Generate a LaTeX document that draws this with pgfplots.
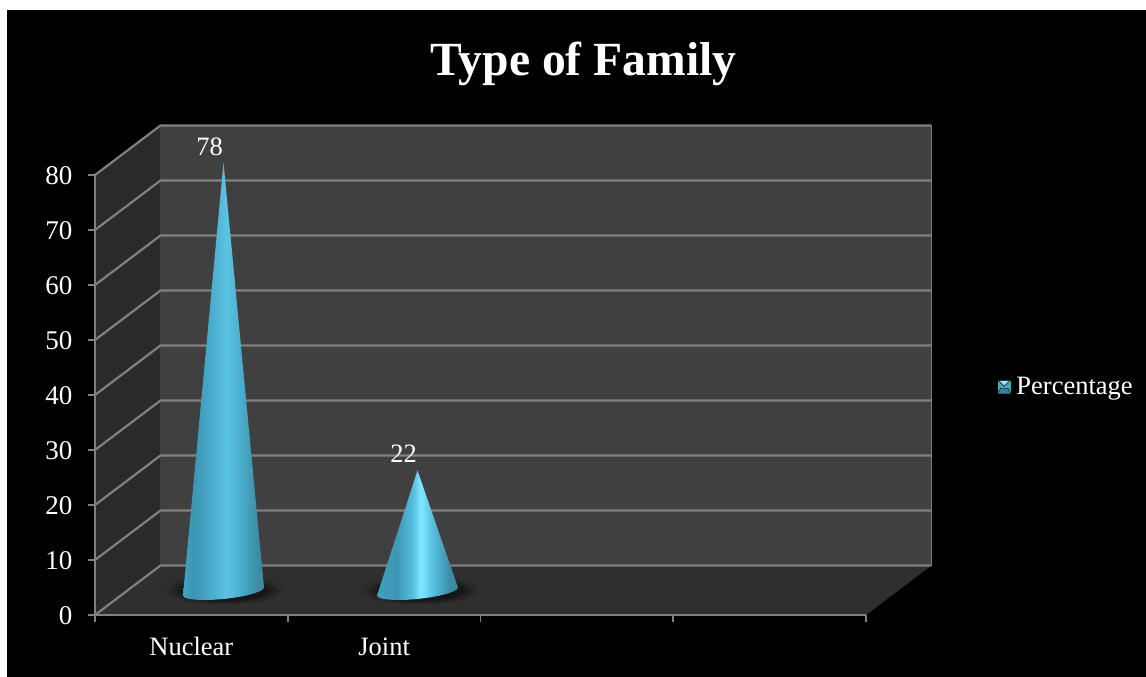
\documentclass[border=0pt]{standalone}
\usepackage{fontspec}
\setmainfont{Liberation Serif}
\usepackage{pgfplots}
\usepackage{pgfplotstable}
\pgfplotsset{compat=1.18}

\definecolor{backwall}{HTML}{404040}
\definecolor{sidewall}{HTML}{2A2A2A}
\definecolor{floorcol}{HTML}{2F2F2F}
\definecolor{gridcol}{HTML}{808080}

% Gradients around the cones; a path's width spans 25bp to 75bp of a shading
\pgfdeclarehorizontalshading{nuclearcone}{100bp}{
  rgb(0bp)=(0.25,0.66,0.78);
  rgb(25bp)=(0.25,0.66,0.78);
  rgb(31bp)=(0.23,0.58,0.70);
  rgb(42bp)=(0.29,0.67,0.80);
  rgb(52bp)=(0.36,0.77,0.89);
  rgb(62bp)=(0.28,0.66,0.78);
  rgb(71bp)=(0.24,0.55,0.65);
  rgb(75bp)=(0.23,0.54,0.64);
  rgb(100bp)=(0.23,0.54,0.64)}
\pgfdeclarehorizontalshading{jointcone}{100bp}{
  rgb(0bp)=(0.24,0.63,0.75);
  rgb(25bp)=(0.24,0.63,0.75);
  rgb(37bp)=(0.24,0.59,0.71);
  rgb(47bp)=(0.33,0.75,0.87);
  rgb(52bp)=(0.50,0.91,1.00);
  rgb(60bp)=(0.33,0.74,0.86);
  rgb(70bp)=(0.24,0.55,0.65);
  rgb(75bp)=(0.22,0.52,0.62);
  rgb(100bp)=(0.22,0.52,0.62)}
\pgfdeclareradialshading{floorshadow}{\pgfpoint{0bp}{0bp}}{
  rgb(0bp)=(0.07,0.07,0.07);
  rgb(18bp)=(0.09,0.09,0.09);
  rgb(25bp)=(0.184,0.184,0.184);
  rgb(100bp)=(0.184,0.184,0.184)}

% Cone outlines: offset from the category centre, and height
\pgfplotstableread{
dx      h
-0.2101 -0.727
-0.2029 -1.055
-0.1821 -1.309
-0.1484 -1.478
-0.1051 -1.545
-0.0545 -1.505
 0.0000 -1.364
 0.0545 -1.127
 0.1051 -0.818
 0.1484 -0.449
 0.1821 -0.053
 0.2029  0.349
 0.2101  0.727
 0.0000  78
}\nuclearcone
\pgfplotstableread{
dx      h
-0.2101 -0.727
-0.2029 -1.055
-0.1821 -1.309
-0.1484 -1.478
-0.1051 -1.545
-0.0545 -1.505
 0.0000 -1.364
 0.0545 -1.127
 0.1051 -0.818
 0.1484 -0.449
 0.1821 -0.053
 0.2029  0.349
 0.2101  0.727
 0.0000  22
}\jointcone

\begin{document}
\begin{tikzpicture}[x=1pt,y=1pt]
  \useasboundingbox (0,0) rectangle (1146,677);
  \fill[white] (0,0) rectangle (1146,677);
  \fill[black] (7,0) rectangle (1146,667);
  \node[white,font=\bfseries\fontsize{47.6}{50}\selectfont,anchor=base] at (583.5,601) {Type of Family};

  \begin{axis}[
    at={(95pt,62pt)}, anchor=origin,
    scale only axis, width=771pt, height=440pt,
    xmin=0, xmax=4, ymin=0, ymax=80,
    clip=false,
    axis x line*=bottom, axis y line*=left,
    axis line style={gridcol,line width=2.2pt,-},
    tick align=outside,
    major tick length=7pt,
    tick style={gridcol,line width=1.8pt},
    xtick={0,1,2,3,4}, xticklabels={},
    extra x ticks={0.5,1.5},
    extra x tick labels={Nuclear,Joint},
    extra x tick style={major tick length=0pt,
      tick label style={text=white,font=\fontsize{26.5}{28}\selectfont,anchor=base,yshift=-40.5pt}},
    ytick={0,10,...,80},
    /pgf/number format/assume math mode=true,
    yticklabel style={text=white,font=\fontsize{27}{28}\selectfont,anchor=east,xshift=-12pt,yshift=-1pt},
    legend style={at={(axis cs:4.68,41.5)},anchor=west,draw=none,fill=none,
      text=white,font=\fontsize{26.5}{28}\selectfont,
      inner sep=0pt,outer sep=0pt,
      nodes={inner xsep=5pt}},
    legend cell align=left,
  ]
    % Walls and floor of the box
    \addplot[forget plot,draw=none,fill=floorcol] coordinates {(0,0)(4,0)(4.3398,9)(0.3398,9)} -- cycle;
    \addplot[forget plot,draw=none,fill=sidewall] coordinates {(0,0)(0.3398,9)(0.3398,89)(0,80)} -- cycle;
    \addplot[forget plot,draw=none,fill=backwall] coordinates {(0.3398,9)(4.3398,9)(4.3398,89)(0.3398,89)} -- cycle;
    \draw[gridcol,line width=1pt] (axis cs:4.3398,9) -- (axis cs:4.3398,89);
    \pgfplotsinvokeforeach{0,10,...,80}{
      \draw[gridcol,line width=2.2pt] (axis cs:0,#1) -- (axis cs:0.3398,#1+9) -- (axis cs:4.3398,#1+9);
    }
    \draw[gridcol,line width=2.2pt] (axis cs:0,0) -- (axis cs:0,80);
    \draw[gridcol,line width=2.2pt] (axis cs:0,0) -- (axis cs:4,0);

    % Soft shadows on the floor
    \fill[shading=floorshadow] (axis cs:0.669,4.55) ellipse [x radius=58pt,y radius=14pt];
    \fill[shading=floorshadow] (axis cs:1.686,4.55) ellipse [x radius=58pt,y radius=14pt];

    % Cones, standing at mid depth on the floor
    \addplot[forget plot,draw=none,shading=nuclearcone,yshift=23.5pt]
      table[x expr=\thisrow{dx}+0.6667,y=h] {\nuclearcone} -- cycle;
    \addplot[forget plot,draw=none,shading=jointcone,yshift=23.5pt]
      table[x expr=\thisrow{dx}+1.6732,y=h] {\jointcone} -- cycle;

    % Values above the cone tips
    \addplot[forget plot,draw=none,mark=none,
      nodes near coords,point meta=y,
      nodes near coords style={text=white,font=\fontsize{26.5}{28}\selectfont,
        anchor=base,xshift=-14pt,yshift=31pt,inner sep=0pt,
        /pgf/number format/assume math mode=true}]
      coordinates {(0.6667,78)(1.6732,22)};

    \addlegendimage{legend image code/.code={
      \fill[fill={rgb,255:red,76;green,164;blue,190}] (-1.5pt,-7pt) rectangle (12.5pt,7pt);
      \fill[fill={rgb,255:red,60;green,132;blue,156}] (-1.5pt,-7pt) -- (12.5pt,-7pt) -- (9pt,-1.5pt) -- (2pt,-1.5pt) -- cycle;
      \fill[fill={rgb,255:red,150;green,232;blue,250}] (0pt,6pt) -- (11pt,6pt) -- (5.5pt,0.5pt) -- cycle;
    }}
    \addlegendentry{Percentage}
  \end{axis}
\end{tikzpicture}
\end{document}
